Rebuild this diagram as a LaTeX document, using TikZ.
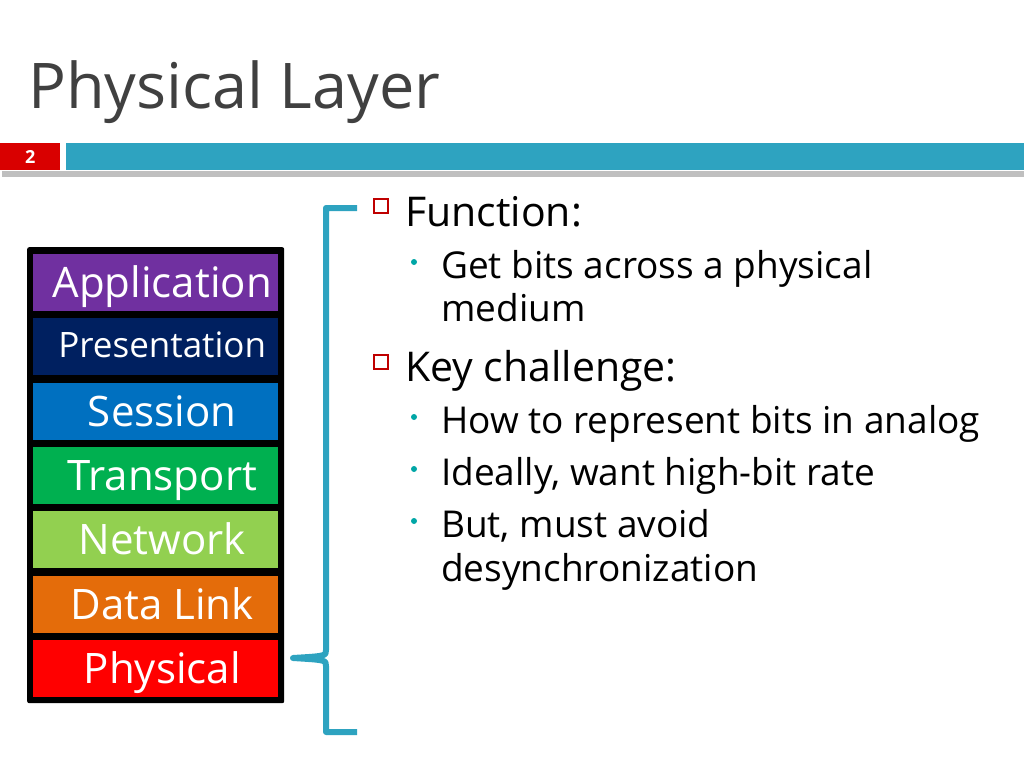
\documentclass[tikz,border=0pt]{standalone}
\usepackage{fontspec}
\setmainfont{Open Sans}
\begin{document}
\begin{tikzpicture}[x=1pt,y=-1pt,
 layer/.style={anchor=north west,minimum width=245pt,minimum height=57pt,inner sep=0pt,text=white,font=\fontsize{42}{42}\selectfont,text height=34pt,text depth=4pt,execute at begin node=\hspace*{13pt}},
 main/.style={anchor=base west,inner sep=0pt,font=\fontsize{41}{41}\selectfont,text=black},
 sub/.style={anchor=base west,inner sep=0pt,font=\fontsize{37}{37}\selectfont,text=black},
 sq/.style={draw=red!75!black,line width=1.2pt,minimum size=14pt,inner sep=0pt},
 dot/.style={circle,fill=teal!70!cyan,minimum size=6pt,inner sep=0pt}]
\useasboundingbox (0,0) rectangle (1024,768);
\definecolor{barblue}{HTML}{2EA3C0}
\node[anchor=base west,inner sep=0pt,text=black!75,font=\fontsize{63}{63}\selectfont] (title) at (28,108) {Physical Layer};
\fill[black!25] (2,171) rectangle (1024,177);
\node[fill=red!85!black,anchor=north west,minimum width=60pt,minimum height=27pt,inner sep=0pt,text=white,font=\bfseries\fontsize{18}{18}\selectfont] (num) at (0,143) {2};
\node[fill=barblue,anchor=north west,minimum width=958pt,minimum height=27pt,inner sep=0pt] (bar) at (66,143) {};
\node[fill=black,anchor=north west,minimum width=257pt,minimum height=456pt,inner sep=0pt,rounded corners=2pt] (stack) at (27,247) {};
\node[layer,fill={rgb,255:red,112;green,48;blue,160}] (app) at (33,254) {Application};
\node[layer,fill={rgb,255:red,0;green,32;blue,96},font=\fontsize{35}{35}\selectfont,text height=27pt,text depth=5pt] (pres) at (33,318) {Presentation};
\node[layer,fill={rgb,255:red,0;green,112;blue,192}] (sess) at (33,383) {Session};
\node[layer,fill={rgb,255:red,0;green,176;blue,80}] (trans) at (33,447) {Transport};
\node[layer,fill={rgb,255:red,146;green,208;blue,80}] (net) at (33,511) {Network};
\node[layer,fill={rgb,255:red,228;green,108;blue,10}] (dl) at (33,576) {Data Link};
\node[layer,fill=red] (phys) at (33,640) {Physical};
\coordinate (bt) at (357,208);
\coordinate (bb) at (357,732);
\coordinate (bm) at (293,658);
\draw[barblue,line width=6pt,line join=round] (bt) -- (326,208) -- (326,650) .. controls (326,656) .. (bm) .. controls (326,660) .. (326,666) -- (326,732) -- (bb);
\node[sq] (s1) at (381,206) {};
\node[main] (f) at (405,226) {Function:};
\node[dot] (d1) at (414,262) {};
\node[sub] (t1) at (441,278) {Get bits across a physical};
\node[sub] (t1b) at (441,321) {medium};
\node[sq] (s2) at (381,362) {};
\node[main] (k) at (405,381) {Key challenge:};
\node[dot] (d2) at (414,417) {};
\node[sub] (t2) at (441,433) {How to represent bits in analog};
\node[dot] (d3) at (414,469) {};
\node[sub] (t3) at (441,485) {Ideally, want high-bit rate};
\node[dot] (d4) at (414,521) {};
\node[sub] (t4) at (441,537) {But, must avoid};
\node[sub] (t4b) at (441,581) {desynchronization};
\end{tikzpicture}
\end{document}
